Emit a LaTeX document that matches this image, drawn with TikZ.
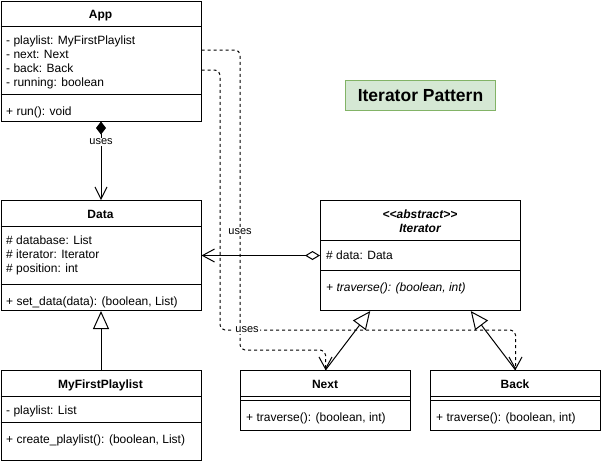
\documentclass[tikz,border=0pt]{standalone}
\usepackage{fontspec}
\setmainfont{Liberation Sans}
\usetikzlibrary{arrows.meta,calc}
\definecolor{titlefill}{HTML}{D5E8D4}
\definecolor{titleborder}{HTML}{82B366}
\tikzset{
  box/.style={draw, line width=1pt, inner sep=0pt, anchor=north west, fill=white},
  txt/.style={anchor=base west, inner sep=0pt, font=\fontsize{12}{14}\selectfont},
  hdr/.style={anchor=base, inner sep=0pt, font=\fontsize{12}{14}\selectfont\bfseries},
  sepline/.style={line width=1pt},
  lbl/.style={fill=white, inner sep=1pt, font=\fontsize{11}{13}\selectfont},
  dep/.style={line width=1pt, dash pattern=on 3pt off 3pt, rounded corners=5pt,
    -{Straight Barb[length=12pt,width=13pt]}},
  inh/.style={line width=1pt, -{Triangle[open,length=18pt,width=16pt]}},
}
\begin{document}
\begin{tikzpicture}[x=1pt,y=-1pt]
\useasboundingbox (0,0) rectangle (601,464);

% title
\node[box, draw=titleborder, fill=titlefill, minimum width=150pt, minimum height=30pt,
  font=\fontsize{17.5}{20}\selectfont\bfseries] (title) at (345,80) {Iterator Pattern};

% App
\node[box, minimum width=200pt, minimum height=120pt] (app) at (0.5,0.5) {};
\draw[sepline] (app.west |- 0,26) -- (app.east |- 0,26);
\draw[sepline] (app.west |- 0,94) -- (app.east |- 0,94);
\node[hdr] (appH) at (100.5,18) {App};
\node[txt] (appA1) at (6,44) {- playlist: MyFirstPlaylist};
\node[txt] (appA2) at (6,58) {- next: Next};
\node[txt] (appA3) at (6,72) {- back: Back};
\node[txt] (appA4) at (6,86) {- running: boolean};
\node[txt] (appM1) at (6,115.5) {+ run(): void};

% Data
\node[box, minimum width=200pt, minimum height=110pt] (data) at (0.5,200) {};
\draw[sepline] (data.west |- 0,226) -- (data.east |- 0,226);
\draw[sepline] (data.west |- 0,284) -- (data.east |- 0,284);
\node[hdr] (dataH) at (100.5,218) {Data};
\node[txt] (dataA1) at (6,244) {\# database: List};
\node[txt] (dataA2) at (6,258) {\# iterator: Iterator};
\node[txt] (dataA3) at (6,272) {\# position: int};
\node[txt] (dataM1) at (6,305.5) {+ set\_data(data): (boolean, List)};

% MyFirstPlaylist
\node[box, minimum width=200pt, minimum height=90pt] (mfp) at (0.5,370) {};
\draw[sepline] (mfp.west |- 0,396) -- (mfp.east |- 0,396);
\draw[sepline] (mfp.west |- 0,422) -- (mfp.east |- 0,422);
\node[hdr] (mfpH) at (100.5,388) {MyFirstPlaylist};
\node[txt] (mfpA1) at (6,414) {- playlist: List};
\node[txt] (mfpM1) at (6,443.5) {+ create\_playlist(): (boolean, List)};

% Iterator
\node[box, minimum width=200pt, minimum height=110pt] (iter) at (320,200) {};
\draw[sepline] (iter.west |- 0,240) -- (iter.east |- 0,240);
\draw[sepline] (iter.west |- 0,270) -- (iter.east |- 0,270);
\node[hdr, font=\fontsize{12}{14}\selectfont\bfseries\itshape] (iterH1) at (420,218) {<\kern0pt<abstract>\kern0pt>};
\node[hdr, font=\fontsize{12}{14}\selectfont\bfseries\itshape] (iterH2) at (420,232) {Iterator};
\node[txt] (iterA1) at (326,259) {\# data: Data};
\node[txt, font=\fontsize{12}{14}\selectfont\itshape] (iterM1) at (326,291.5) {+ traverse(): (boolean, int)};

% Next
\node[box, minimum width=170pt, minimum height=60pt] (next) at (240,370) {};
\draw[sepline] (next.west |- 0,396) -- (next.east |- 0,396);
\draw[sepline] (next.west |- 0,400) -- (next.east |- 0,400);
\node[hdr] (nextH) at (325,388) {Next};
\node[txt] (nextM1) at (246,421.5) {+ traverse(): (boolean, int)};

% Back
\node[box, minimum width=170pt, minimum height=60pt] (back) at (430,370) {};
\draw[sepline] (back.west |- 0,396) -- (back.east |- 0,396);
\draw[sepline] (back.west |- 0,400) -- (back.east |- 0,400);
\node[hdr] (backH) at (515,388) {Back};
\node[txt] (backM1) at (436,421.5) {+ traverse(): (boolean, int)};

% dashed dependencies
\coordinate (appN) at (app.east |- 0,50);
\coordinate (appB) at (app.east |- 0,70);
\draw[dep] (appN) -- (240,50) -- (240,350) -- (next.north |- 0,350) -- (next.north);
\draw[dep] (appB) -- (220,70) -- (220,330) -- (back.north |- 0,330) -- (back.north);

% composition App -> Data
\draw[line width=1pt, {Diamond[length=13pt,width=10pt]}-{Straight Barb[length=12pt,width=12pt]}]
  (app.south) -- node[lbl, pos=0.258] (usesA) {uses} (data.north);

% aggregation Iterator -> Data
\draw[line width=1pt, {Diamond[open,length=15pt,width=9pt]}-{Straight Barb[length=12pt,width=13pt]}]
  (iter.west) -- (data.east);

% inheritance
\draw[inh] (mfp.north) -- (data.south);
\coordinate (iterL) at ($(iter.south west)!0.25!(iter.south east)$);
\coordinate (iterR) at ($(iter.south west)!0.75!(iter.south east)$);
\draw[inh] (next.north) -- (iterL);
\draw[inh] (back.north) -- (iterR);

% labels of dependencies
\node[lbl] (usesN) at (240,232) {uses};
\node[lbl] (usesB) at (247,330) {uses};
\end{tikzpicture}
\end{document}
